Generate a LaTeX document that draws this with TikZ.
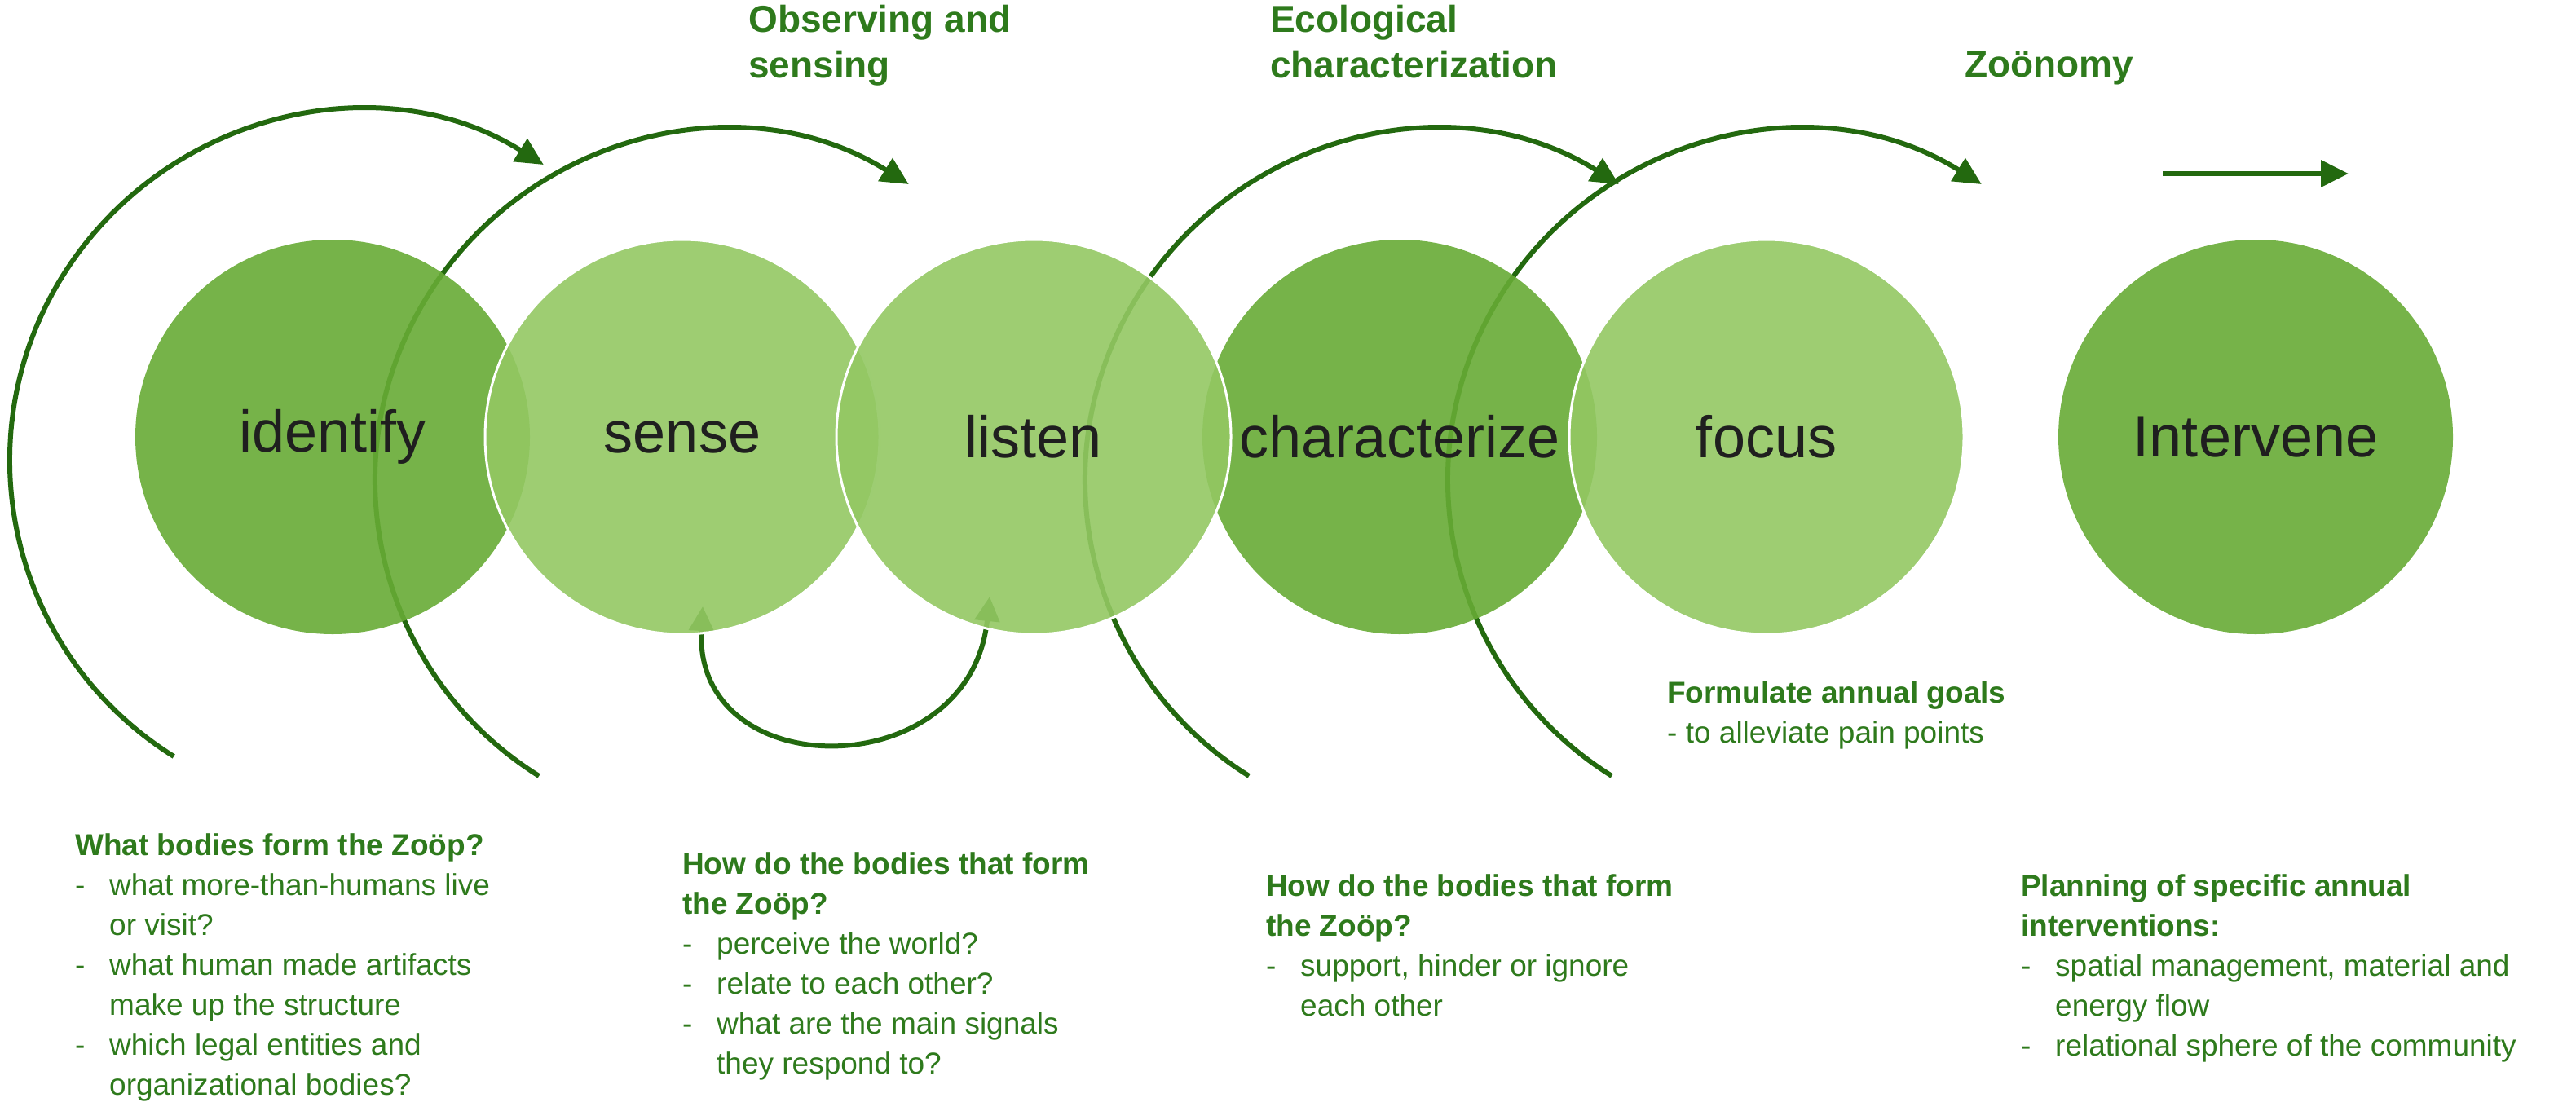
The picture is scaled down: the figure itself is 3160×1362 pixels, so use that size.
\documentclass[tikz,border=0pt]{standalone}
\usepackage{fontspec}
\setmainfont{Liberation Sans}
\usetikzlibrary{arrows.meta}
\definecolor{dkc}{HTML}{67AB35}
\definecolor{ltc}{HTML}{93C863}
\definecolor{txg}{HTML}{2E7A1C}
\definecolor{arg}{HTML}{23690F}
\begin{document}
\begin{tikzpicture}[x=1pt,y=-1pt,
  circ/.style={circle,minimum size=484pt,inner sep=0pt,fill opacity=0.9,text opacity=1,
     font=\fontsize{72}{80}\selectfont,text=black!88},
  dark/.style={circ,fill=dkc},
  light/.style={circ,fill=ltc,draw=white,line width=3pt},
  bigarc/.style={draw=arg,line width=6pt,-{Triangle[length=34pt,width=32pt]}},
  head/.style={anchor=north west,inner sep=0pt,align=left,text=txg,font=\bfseries\fontsize{46}{56}\selectfont},
  blk/.style={anchor=north west,inner sep=0pt,align=left,text=txg,font=\fontsize{37}{49}\selectfont}]
\useasboundingbox (0,0) rectangle (3160,1362);
% arcs
\coordinate (c1) at (440,565);
\coordinate (c2) at (888,589);
\coordinate (c3) at (1759,589);
\coordinate (c4) at (2204,589);
\draw[bigarc] (c1) ++(238:428pt) arc[start angle=238,end angle=58,radius=428pt];
\draw[bigarc] (c2) ++(238:428pt) arc[start angle=238,end angle=58,radius=428pt];
\draw[bigarc] (c3) ++(238:428pt) arc[start angle=238,end angle=58,radius=428pt];
\draw[bigarc] (c4) ++(238:428pt) arc[start angle=238,end angle=58,radius=428pt];
\coordinate (s1) at (862,744);
\coordinate (s2) at (1214,732);
\draw[draw=arg,line width=6pt,{Triangle[length=30pt,width=30pt]}-{Triangle[length=30pt,width=30pt]}]
  (s1) .. controls (850,965) and (1190,965) .. (s2);
% circles
\node[dark]  (identify) at (408,536) {identify};
\node[dark]  (charac) at (1717,536) {};
\node[light] (sense) at (837,536) {sense};
\node[light] (listen) at (1268,536) {listen};
\node[light] (focus) at (2167,536) {focus};
\node[dark]  (interv) at (2767,536) {Intervene};
\node[font=\fontsize{72}{80}\selectfont,text=black!88] (charlab) at (1717,536) {characterize};
\coordinate (a1) at (2653,213);
\coordinate (a2) at (2881,213);
\draw[bigarc] (a1) -- (a2);
% headers
\node[head] (h1) at (918,6) {Observing and\\sensing};
\node[head] (h2) at (1558,6) {Ecological\\characterization};
\node[head] (h3) at (2410,62) {Zoönomy};
% bottom blocks
\node[blk] (fg) at (2045,835) {\textbf{Formulate annual goals}\\- to alleviate pain points};
\node[blk] (b1) at (92,1022) {\textbf{What bodies form the Zoöp?}\\
\makebox[42pt][l]{-}what more-than-humans live\\\hspace*{42pt}or visit?\\
\makebox[42pt][l]{-}what human made artifacts\\\hspace*{42pt}make up the structure\\
\makebox[42pt][l]{-}which legal entities and\\\hspace*{42pt}organizational bodies?};
\node[blk] (b2) at (837,1045) {\textbf{How do the bodies that form}\\\textbf{the Zoöp?}\\
\makebox[42pt][l]{-}perceive the world?\\
\makebox[42pt][l]{-}relate to each other?\\
\makebox[42pt][l]{-}what are the main signals\\\hspace*{42pt}they respond to?};
\node[blk] (b3) at (1553,1072) {\textbf{How do the bodies that form}\\\textbf{the Zoöp?}\\
\makebox[42pt][l]{-}support, hinder or ignore\\\hspace*{42pt}each other};
\node[blk] (b4) at (2479,1072) {\textbf{Planning of specific annual}\\\textbf{interventions:}\\
\makebox[42pt][l]{-}spatial management, material and\\\hspace*{42pt}energy flow\\
\makebox[42pt][l]{-}relational sphere of the community};
\end{tikzpicture}
\end{document}
